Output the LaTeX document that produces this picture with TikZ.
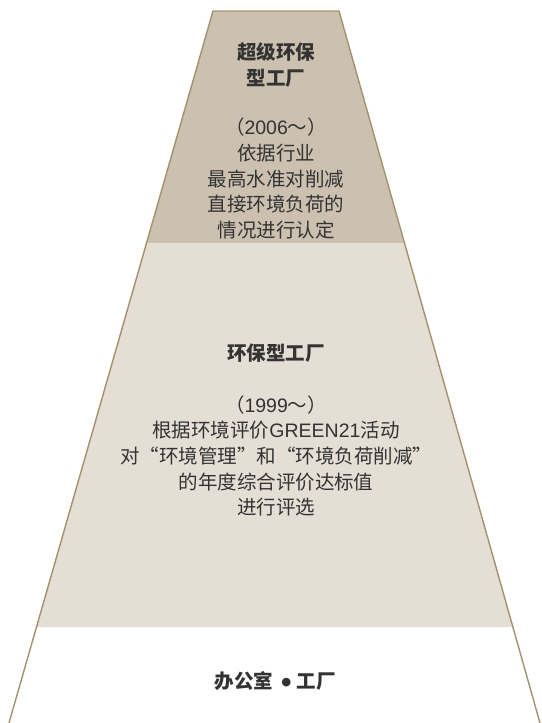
\documentclass[tikz,border=0pt]{standalone}
\usepackage{fontspec}
\newfontfamily\cjk{Noto Sans CJK SC}
\newfontfamily\lat{Liberation Sans}
\usetikzlibrary{calc}
\definecolor{bandA}{HTML}{CCC1B0}
\definecolor{bandB}{HTML}{E4DED5}
\definecolor{edge}{HTML}{A3916F}
\definecolor{txt}{HTML}{333333}
\tikzset{
  lbl/.style={align=center, text=txt, inner sep=0pt,
    font=\cjk\fontsize{19.5}{25.7}\selectfont},
  ttl/.style={lbl, font=\cjk\bfseries\fontsize{19.5}{26}\selectfont},
}
\begin{document}
\begin{tikzpicture}[x=1pt,y=-1pt]
\useasboundingbox (0,0) rectangle (541,723);
\coordinate (TL) at (213,11);
\coordinate (TR) at (339,11);
\coordinate (BL) at (9,723);
\coordinate (BR) at (540,723);
\coordinate (L1) at ($(TL)!0.3258!(BL)$);
\coordinate (R1) at ($(TR)!0.3258!(BR)$);
\coordinate (L2) at ($(TL)!0.8652!(BL)$);
\coordinate (R2) at ($(TR)!0.8652!(BR)$);
\fill[bandA] (TL) -- (TR) -- (R1) -- (L1) -- cycle;
\fill[bandB] (L1) -- (R1) -- (R2) -- (L2) -- cycle;
\draw[edge, line width=1.4pt, line join=miter] (BL) -- (TL) -- (TR) -- (BR);
\node[ttl] (t1) at (276,65) {超级环保\\型工厂};
\node[lbl] (p1) at (276,178.5) {（{\lat 2006}～）\\依据行业\\最高水准对削减\\直接环境负荷的\\情况进行认定};
\node[ttl] (t2) at (276,353) {环保型工厂};
\node[lbl] (p2) at (276,456) {（{\lat 1999}～）\\根据环境评价{\lat GREEN21}活动\\对“环境管理”和“环境负荷削减”\\的年度综合评价达标值\\进行评选};
\node[ttl] (t3) at (275,682) {办公室\hspace{8pt}\raisebox{-3.5pt}{\lat\bfseries\fontsize{30}{30}\selectfont •}\hspace{5pt}工厂};
\end{tikzpicture}
\end{document}
